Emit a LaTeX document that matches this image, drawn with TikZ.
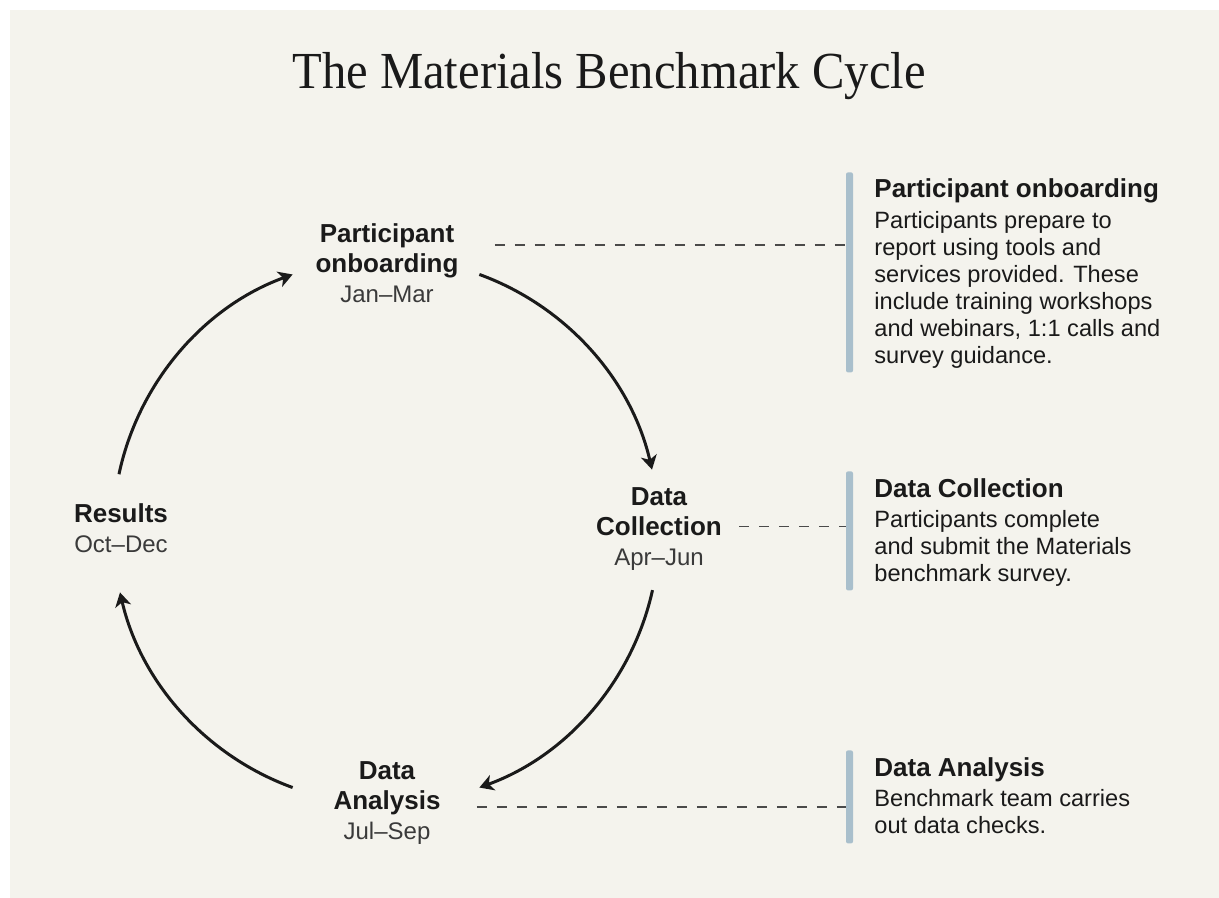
\documentclass[tikz,border=0pt]{standalone}
\usepackage{fontspec}
\setmainfont{Liberation Sans}
\newfontfamily\titlefont[FakeStretch=0.935]{Liberation Serif}
\usepackage{xcolor}
\usetikzlibrary{positioning, arrows.meta}
\definecolor{paper}{HTML}{F4F3ED}
\definecolor{ink}{HTML}{1A1A1A}
\definecolor{dategray}{HTML}{3A3A3A}
\definecolor{barblue}{HTML}{A9BFCC}
\definecolor{dashgray}{HTML}{4A4A4A}
\newcommand{\stagedate}[1]{{\mdseries\fontsize{12}{15}\selectfont\color{dategray}#1}}

\begin{document}
\begin{tikzpicture}[x=0.5pt, y=-0.5pt,
  stage/.style={text=ink, align=center, anchor=north, inner sep=0pt,
    font=\bfseries\fontsize{13}{15}\selectfont},
  infohead/.style={text=ink, anchor=base west, inner sep=0pt,
    font=\bfseries\fontsize{13}{15}\selectfont},
  infotext/.style={text=ink, align=left, anchor=north west, inner sep=0pt,
    font=\fontsize{11.8}{13.5}\selectfont},
  sidebar/.style={fill=barblue, minimum width=3.5pt, inner sep=0pt,
    rounded corners=1pt, anchor=north},
  flow/.style={-{Stealth[length=7pt, width=8pt, inset=2pt]}, line width=1.5pt, ink},
  guide/.style={dash pattern=on 5pt off 5pt, line width=0.85pt, dashgray}]
	\useasboundingbox (0,0) rectangle (1219,898);
	\fill[paper] (10,10) rectangle (1219,898);
	% title %
	\node[anchor=base, inner sep=0pt, text=ink, font=\titlefont\fontsize{26}{30}\selectfont] (title) at (609,89) {The Materials Benchmark Cycle};
	% cycle nodes %
	\coordinate (hub) at (386,531);
	\def\R{273}
	\node[stage] (onb) at (387,223.4) {Participant\\onboarding\\\stagedate{Jan–Mar}};
	\node[stage] (dcol) at (659,487.4) {Data\\Collection\\\stagedate{Apr–Jun}};
	\node[stage] (dana) at (387,761.4) {Data\\Analysis\\\stagedate{Jul–Sep}};
	\node[stage] (res) at (121,503.4) {Results\\\stagedate{Oct–Dec}};
	% cycle arrows %
	\draw[flow] ([shift={(-168:\R)}]hub) arc[start angle=-168, end angle=-110, radius=\R];
	\draw[flow] ([shift={(-70:\R)}]hub) arc[start angle=-70, end angle=-13, radius=\R];
	\draw[flow] ([shift={(12.5:\R)}]hub) arc[start angle=12.5, end angle=70, radius=\R];
	\draw[flow] ([shift={(110:\R)}]hub) arc[start angle=110, end angle=167, radius=\R];
	% side notes %
	\node[sidebar, minimum height=100pt] (onbBar) at (849.5,172) {};
	\node[sidebar, minimum height=59.5pt] (dcolBar) at (849.5,471) {};
	\node[sidebar, minimum height=46.5pt] (danaBar) at (849.5,750) {};
	\node[infohead] (onbT) at (874,198) {Participant onboarding};
	\node[infotext] (onbB) at ([yshift=-6.5pt]onbT.base west) {Participants prepare to\\report using tools and\\services provided. These\\include training workshops\\and webinars, 1:1 calls and\\survey guidance.};
	\node[infohead] (dcolT) at (874,497) {Data Collection};
	\node[infotext] (dcolB) at ([yshift=-6.5pt]dcolT.base west) {Participants complete\\and submit the Materials\\benchmark survey.};
	\node[infohead] (danaT) at (874,776) {Data Analysis};
	\node[infotext] (danaB) at ([yshift=-6.5pt]danaT.base west) {Benchmark team carries\\out data checks.};
	% dashed links %
	\coordinate (onbLink) at ([shift={(18pt,9pt)}]onb.east);
	\coordinate (dcolLink) at ([shift={(8.5pt,1.3pt)}]dcol.east);
	\coordinate (danaLink) at ([shift={(18pt,-2pt)}]dana.east);
	\draw[guide] (onbLink) -- (onbLink -| onbBar.west);
	\draw[guide] (dcolLink) -- (dcolLink -| dcolBar.west);
	\draw[guide] (danaLink) -- (danaLink -| danaBar.west);
\end{tikzpicture}
\end{document}
